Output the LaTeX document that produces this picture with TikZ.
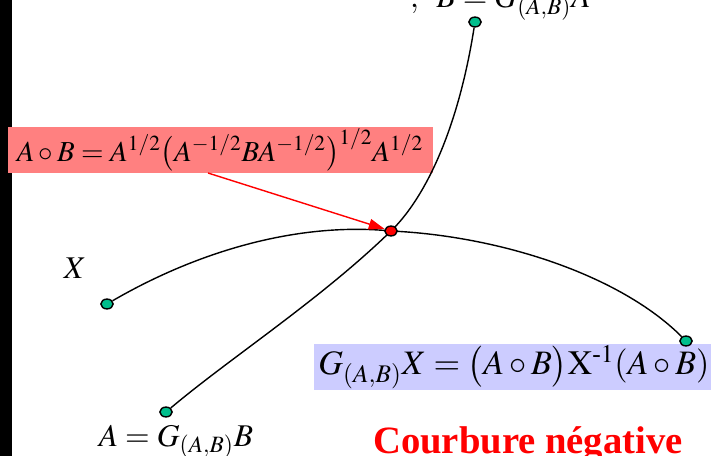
\documentclass[tikz,border=0pt]{standalone}
\usepackage{amsmath,amssymb}
\usepackage{mathptmx}
\usepackage{fontspec}
\setmainfont{Liberation Serif}
\usepackage{xcolor}
\usetikzlibrary{positioning, arrows.meta, shapes.geometric}

\definecolor{ptgreen}{RGB}{0,190,140}
\definecolor{boxpink}{RGB}{255,128,128}
\definecolor{boxblue}{RGB}{204,204,255}

\begin{document}
\begin{tikzpicture}[
    x=0.02cm, y=-0.02cm,
    geopoint/.style={
        ellipse, 
        draw, 
        fill=ptgreen, 
        inner sep=0pt, 
        minimum width=7pt,
        minimum height=5.6pt,
        line width=0.8pt
    },
    formulabox/.style={
        inner sep=1pt, 
        font=\fontsize{16.5}{20}\selectfont
    },
    label text/.style={
        font=\fontsize{18}{21}\selectfont
    },
    curve/.style={
        line width=0.8pt
    },
    arrow/.style={
        -{Triangle[length=9pt, width=6pt]}, 
        red, 
        line width=0.8pt
    }
]
\useasboundingbox (0,0) rectangle (711,456);

% Left bar
\fill [black] (0,0) rectangle (12,456);

% Boxes with formulas
\node (mean) at (220,150) [formulabox, fill=boxpink, minimum width=425*0.02cm, minimum height=46*0.02cm] {$A\circ B = A^{1/2}\bigl(A^{-1/2}BA^{-1/2}\bigr)^{1/2}A^{1/2}$};
\node (refl) at (514,367) [formulabox, fill=boxblue, font=\fontsize{19.5}{23}\selectfont, minimum width=400*0.02cm, minimum height=44*0.02cm] {$G_{(A,B)}X = \bigl(A\circ B\bigr)\mathrm{X}^{\text{-}1}(A\circ B)$};

% Geodesics
\coordinate (mid) at (391,231);
\node (ptB) at (475,22)  [geopoint] {};
\node (ptA) at (166,412) [geopoint] {};
\node (ptX) at (107,304) [geopoint] {};
\node (ptG) at (686,341) [geopoint] {};

\draw [curve] (ptB) .. controls (458,130) and (425,198) .. (mid)
              .. controls (320,300) and (230,358) .. (ptA);
\draw [curve] (ptX) .. controls (200,250) and (300,222) .. (mid)
              .. controls (500,236) and (620,275) .. (ptG);

\node (ptM) at (mid) [geopoint, fill=red] {};

% Labels
\node (lblB) at (404,8) [label text, anchor=base west] {$,\;\; B = G_{(A,B)}A$};
\node (lblX) at (75,278) [label text, anchor=base] {$X$};
\node (lblA) at (176,446) [label text, anchor=base] {$A = G_{(A,B)}B$};
\node (title) at (528,454) [anchor=base, text=red, font=\fontsize{22}{26}\selectfont\bfseries] {Courbure négative};

% Arrow: formula to midpoint
\coordinate (arrstart) at (208,173);
\draw [arrow] (arrstart) -- (ptM);

\end{tikzpicture}
\end{document}
